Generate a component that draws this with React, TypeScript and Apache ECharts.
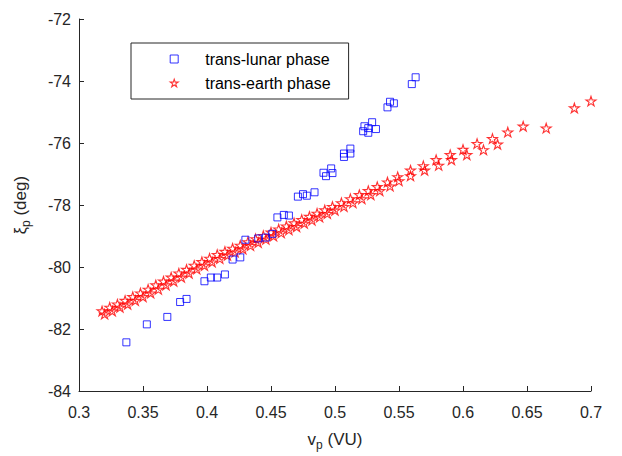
import React, { useEffect, useRef } from 'react';
import * as echarts from 'echarts';

const xTickMin = 0.3;
const xTickMax = 0.7;
const xTickStep = 0.05;
const yTickMin = -84;
const yTickMax = -72;
const yTickStep = 2;

const seriesNames = ['trans-lunar phase', 'trans-earth phase'];

const lunarX = [0.337, 0.353, 0.369, 0.379, 0.384, 0.398, 0.403, 0.408, 0.414, 0.420, 0.426, 0.430, 0.440, 0.446, 0.451, 0.455, 0.460, 0.464, 0.471, 0.475, 0.478, 0.484, 0.491, 0.493, 0.497, 0.498, 0.507, 0.507, 0.512, 0.512, 0.522, 0.523, 0.526, 0.526, 0.529, 0.532, 0.541, 0.543, 0.546, 0.560, 0.563];
const lunarY = [-82.43, -81.85, -81.61, -81.13, -81.03, -80.46, -80.34, -80.34, -80.24, -79.76, -79.69, -79.12, -79.08, -79.05, -78.93, -78.40, -78.32, -78.34, -77.73, -77.65, -77.70, -77.59, -76.96, -77.07, -76.82, -76.97, -76.45, -76.34, -76.34, -76.18, -75.62, -75.46, -75.67, -75.52, -75.33, -75.55, -74.85, -74.67, -74.72, -74.10, -73.88];

const earthX = [0.318, 0.320, 0.324, 0.326, 0.330, 0.332, 0.336, 0.338, 0.342, 0.344, 0.348, 0.350, 0.354, 0.356, 0.360, 0.362, 0.366, 0.368, 0.372, 0.374, 0.378, 0.380, 0.384, 0.386, 0.390, 0.392, 0.396, 0.398, 0.402, 0.404, 0.408, 0.410, 0.414, 0.416, 0.420, 0.422, 0.426, 0.428, 0.432, 0.434, 0.438, 0.440, 0.444, 0.446, 0.450, 0.452, 0.456, 0.458, 0.462, 0.464, 0.468, 0.470, 0.474, 0.476, 0.480, 0.482, 0.486, 0.488, 0.492, 0.494, 0.498, 0.500, 0.505, 0.507, 0.512, 0.514, 0.519, 0.521, 0.526, 0.528, 0.533, 0.535, 0.541, 0.543,
  0.549, 0.550, 0.559, 0.559, 0.569, 0.570, 0.579, 0.581, 0.590, 0.591, 0.600, 0.603, 0.611, 0.616, 0.623, 0.627, 0.635, 0.647, 0.665, 0.687, 0.700];
const earthY = [-81.42, -81.52, -81.30, -81.42, -81.20, -81.30, -81.08, -81.20, -80.96, -81.08, -80.84, -80.96, -80.72, -80.84, -80.58, -80.72, -80.46, -80.58, -80.33, -80.46, -80.20, -80.33, -80.08, -80.20, -79.95, -80.07, -79.83, -79.95, -79.72, -79.84, -79.60, -79.73, -79.50, -79.62, -79.40, -79.52, -79.30, -79.42, -79.19, -79.31, -79.09, -79.21, -78.99, -79.11, -78.88, -79.00, -78.78, -78.90, -78.68, -78.80, -78.58, -78.70, -78.47, -78.59, -78.37, -78.49, -78.27, -78.39, -78.16, -78.28, -78.05, -78.17, -77.93, -78.05, -77.80, -77.93, -77.67, -77.80, -77.54, -77.67, -77.41, -77.54, -77.26, -77.39,
  -77.09, -77.22, -76.88, -77.06, -76.74, -76.88, -76.54, -76.72, -76.38, -76.54, -76.21, -76.38, -76.02, -76.22, -75.86, -76.04, -75.65, -75.46, -75.52, -74.87, -74.65];

const STAR = 'path://M0,-1L0.2245,-0.309L0.951,-0.309L0.363,0.118L0.588,0.809L0,0.382L-0.588,0.809L-0.363,0.118L-0.951,-0.309L-0.2245,-0.309Z';
const FONT = "'Liberation Sans', Arial, Helvetica, sans-serif";
const AXIS = '#262626';

export default function App() {
  const ref = useRef<HTMLDivElement>(null);
  useEffect(() => {
    document.body.style.margin = '0';
    if (!ref.current) return;
    const chart = echarts.init(ref.current, undefined, { renderer: 'svg' });
    const blueStyle = { color: 'none', borderColor: '#0000ff', borderWidth: 1 };
    const redStyle = { color: 'none', borderColor: '#ff0000', borderWidth: 1.1 };
    chart.setOption({
      animation: false,
      backgroundColor: '#ffffff',
      textStyle: { fontFamily: FONT },
      grid: { left: 79, right: 31, top: 19, bottom: 63, containLabel: false },
      legend: {
        orient: 'vertical',
        left: 131,
        top: 43,
        padding: [8, 18, 8, 36.7],
        itemWidth: 8,
        itemHeight: 8,
        itemGap: 8,
        borderColor: AXIS,
        borderWidth: 1,
        backgroundColor: '#ffffff',
        selectedMode: false,
        textStyle: { fontSize: 16, color: '#000000', fontFamily: FONT, padding: [0, 0, 0, 22], lineHeight: 16 },
        data: [
          { name: seriesNames[0], icon: 'rect', itemStyle: blueStyle },
          { name: seriesNames[1], icon: STAR, itemStyle: redStyle },
        ],
      },
      xAxis: {
        type: 'value',
        min: xTickMin,
        max: xTickMax,
        interval: xTickStep,
        name: '{a|v}{s|p}{a| (VU)}',
        nameLocation: 'middle',
        nameGap: 36,
        nameTextStyle: {
          color: AXIS,
          rich: {
            a: { fontSize: 17, fontFamily: FONT, color: AXIS, lineHeight: 24, verticalAlign: 'middle' },
            s: { fontSize: 12, fontFamily: FONT, color: AXIS, lineHeight: 24, verticalAlign: 'bottom' },
          },
        },
        axisLine: { show: true, lineStyle: { color: AXIS, width: 1 } },
        axisTick: { show: true, inside: true, length: 5, lineStyle: { color: AXIS } },
        axisLabel: {
          fontSize: 16,
          color: AXIS,
          fontFamily: FONT,
          margin: 13,
          formatter: (v: number) => String(+v.toFixed(2)),
        },
        splitLine: { show: false },
      },
      yAxis: {
        type: 'value',
        min: yTickMin,
        max: yTickMax,
        interval: yTickStep,
        name: '{g|ξ}{s|p}{a| (deg)}',
        nameLocation: 'middle',
        nameRotate: 90,
        nameGap: 47,
        nameTextStyle: {
          color: AXIS,
          rich: {
            g: { fontSize: 16, fontFamily: FONT, color: AXIS, lineHeight: 24, verticalAlign: 'middle' },
            a: { fontSize: 17, fontFamily: FONT, color: AXIS, lineHeight: 24, verticalAlign: 'middle' },
            s: { fontSize: 12, fontFamily: FONT, color: AXIS, lineHeight: 24, verticalAlign: 'bottom' },
          },
        },
        axisLine: { show: true, lineStyle: { color: AXIS, width: 1 } },
        axisTick: { show: true, inside: true, length: 5, lineStyle: { color: AXIS } },
        axisLabel: { fontSize: 16, color: AXIS, fontFamily: FONT, margin: 8 },
        splitLine: { show: false },
      },
      series: [
        {
          name: seriesNames[0],
          type: 'scatter',
          symbol: 'rect',
          symbolSize: 7,
          clip: false,
          itemStyle: blueStyle,
          data: lunarX.map((x, i) => [x, lunarY[i]]),
          z: 3,
        },
        {
          name: seriesNames[1],
          type: 'scatter',
          symbol: STAR,
          symbolSize: [10, 9.5],
          clip: false,
          itemStyle: redStyle,
          data: earthX.map((x, i) => [x, earthY[i]]),
          z: 2,
        },
      ],
    });
    return () => chart.dispose();
  }, []);
  return <div ref={ref} style={{ width: 622, height: 456 }} />;
}
